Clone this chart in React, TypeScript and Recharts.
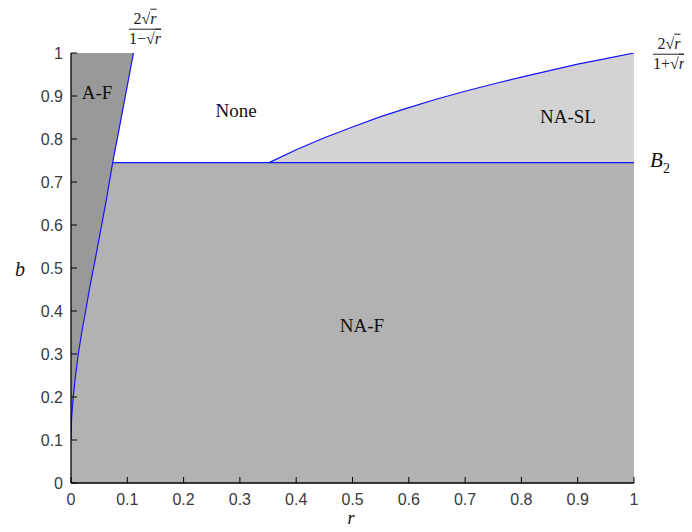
import { ComposedChart, Area, Line, XAxis, YAxis } from "recharts"

const TICKS = [0, 0.1, 0.2, 0.3, 0.4, 0.5, 0.6, 0.7, 0.8, 0.9, 1]
const B2 = 0.745

// left boundary 2√r/(1-√r)
const leftR = [0, 0.001, 0.004, 0.008, 0.013, 0.019, 0.026, 0.034, 0.043, 0.053, 0.063, 0.074, 0.085, 0.098, 0.111]
const leftB = [0.1, 0.15, 0.2, 0.25, 0.3, 0.35, 0.4, 0.46, 0.52, 0.59, 0.66, 0.745, 0.82, 0.91, 1]

// right boundary 2√r/(1+√r)
const rightR = [0.352, 0.4, 0.45, 0.5, 0.55, 0.6, 0.65, 0.7, 0.75, 0.8, 0.85, 0.9, 0.95, 1]
const rightB = [0.745, 0.775, 0.803, 0.828, 0.852, 0.873, 0.893, 0.911, 0.928, 0.944, 0.959, 0.974, 0.987, 1]

const W = 676
const H = 516
const TICK_MARGIN = 8
const BLUE = "#1414ff"

const afData = leftR.map((r, i) => ({ r, range: [leftB[i], 1] }))
const nafData = [
  ...leftR.filter((_, i) => leftB[i] <= B2).map((r, i) => ({ r, range: [0, leftB[i]] })),
  { r: 1, range: [0, B2] },
]
const naslData = rightR.map((r, i) => ({ r, range: [B2, rightB[i]] }))
const leftLine = leftR.map((r, i) => ({ r, b: leftB[i] }))
const rightLine = rightR.map((r, i) => ({ r, b: rightB[i] }))
const b2Line = [
  { r: leftR[leftB.indexOf(B2)], b: B2 },
  { r: 1, b: B2 },
]

const tickFont = { fontFamily: "'Liberation Sans', Arial, sans-serif", fontSize: 16, fill: "#3a3a3a" }

function XTick({ x, y, payload }: any) {
  const axisY = y - TICK_MARGIN
  return (
    <g>
      <line x1={x} x2={x} y1={axisY} y2={axisY - 6} stroke="#000" />
      <text x={x} y={y} dy={14} textAnchor="middle" {...tickFont}>
        {String(payload.value)}
      </text>
    </g>
  )
}

function YTick({ x, y, payload }: any) {
  const axisX = x + TICK_MARGIN
  return (
    <g>
      <line x1={axisX} x2={axisX + 6} y1={y} y2={y} stroke="#000" />
      <text x={x} y={y} dy={6} textAnchor="end" {...tickFont}>
        {String(payload.value)}
      </text>
    </g>
  )
}

function Txt({ x, y, size = 19, italic = false, lh = 1, children }: any) {
  return (
    <div
      style={{
        position: "absolute",
        left: x,
        top: y,
        transform: "translate(-50%, -50%)",
        fontFamily: "'Liberation Serif', 'Times New Roman', serif",
        fontSize: size,
        fontStyle: italic ? "italic" : "normal",
        whiteSpace: "nowrap",
        lineHeight: lh,
        color: "#111",
      }}
    >
      {children}
    </div>
  )
}

function Frac({ x, y, sign }: { x: number; y: number; sign: string }) {
  const rr = <span style={{ textDecoration: "overline", fontStyle: "italic" }}>r</span>
  return (
    <div
      style={{
        position: "absolute",
        left: x,
        top: y,
        transform: "translate(-50%, -50%)",
        fontFamily: "'Liberation Serif', 'Times New Roman', serif",
        fontSize: 16,
        lineHeight: 1.05,
        textAlign: "center",
        color: "#222",
      }}
    >
      <div style={{ borderBottom: "1px solid #222", padding: "0 2px 1px" }}>2√{rr}</div>
      <div style={{ paddingTop: 1 }}>
        1{sign}√{rr}
      </div>
    </div>
  )
}

export default function App() {
  return (
    <div style={{ position: "relative", width: W, height: H }}>
      <ComposedChart width={W} height={H} margin={{ top: 45, right: 50, bottom: 0, left: 0 }}>
        <XAxis
          dataKey="r"
          type="number"
          domain={[0, 1]}
          ticks={TICKS}
          interval={0}
          allowDataOverflow
          height={41}
          tickSize={0}
          tickMargin={TICK_MARGIN}
          tick={<XTick />}
          axisLine={{ stroke: "#000", strokeWidth: 1.3 }}
        />
        <XAxis xAxisId="top" orientation="top" type="number" domain={[0, 1]} height={0} tick={false} axisLine={{ stroke: "#000", strokeWidth: 1.3 }} />
        <YAxis
          type="number"
          domain={[0, 1]}
          ticks={TICKS}
          interval={0}
          allowDataOverflow
          width={63}
          tickSize={0}
          tickMargin={TICK_MARGIN}
          tick={<YTick />}
          axisLine={{ stroke: "#000", strokeWidth: 1.3 }}
        />
        <YAxis yAxisId="right" orientation="right" type="number" domain={[0, 1]} width={0} tick={false} axisLine={{ stroke: "#000", strokeWidth: 1.3 }} />

        <Area data={afData} dataKey="range" type="linear" stroke="none" fill="#999999" fillOpacity={1} dot={false} activeDot={false} isAnimationActive={false} />
        <Area data={nafData} dataKey="range" type="linear" stroke="none" fill="#b2b2b2" fillOpacity={1} dot={false} activeDot={false} isAnimationActive={false} />
        <Area data={naslData} dataKey="range" type="linear" stroke="none" fill="#d3d3d3" fillOpacity={1} dot={false} activeDot={false} isAnimationActive={false} />

        <Line data={leftLine} dataKey="b" type="linear" stroke={BLUE} strokeWidth={1.2} dot={false} activeDot={false} isAnimationActive={false} />
        <Line data={b2Line} dataKey="b" type="linear" stroke={BLUE} strokeWidth={1.2} dot={false} activeDot={false} isAnimationActive={false} />
        <Line data={rightLine} dataKey="b" type="linear" stroke={BLUE} strokeWidth={1.2} dot={false} activeDot={false} isAnimationActive={false} />
      </ComposedChart>

      <Txt x={89} y={84}>A-F</Txt>
      <Txt x={228} y={102}>None</Txt>
      <Txt x={560} y={108}>NA-SL</Txt>
      <Txt x={354} y={317}>NA-F</Txt>

      <Txt x={12} y={261} size={20} italic>b</Txt>
      <Txt x={343} y={510} size={18} italic lh={0.6}>r</Txt>

      <Txt x={652} y={155} size={21} italic>
        B<sub style={{ fontStyle: "normal", fontSize: 14 }}>2</sub>
      </Txt>

      <Frac x={137} y={21} sign="−" />
      <Frac x={661} y={46} sign="+" />
    </div>
  )
}
